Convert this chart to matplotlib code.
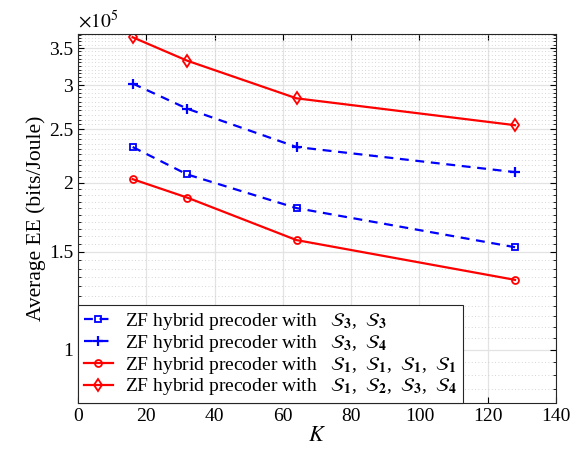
import numpy as np
import matplotlib
matplotlib.use("Agg")
import matplotlib.pyplot as plt
from matplotlib.ticker import FixedLocator, FuncFormatter, NullFormatter

plt.rcParams["font.family"] = ["Liberation Serif", "DejaVu Serif"]
plt.rcParams["mathtext.fontset"] = "stix"

# number of users K
K = [16, 32, 64, 128]

# average EE in units of 1e5 bits/Joule
ee_s3_s3 = [2.32, 2.07, 1.80, 1.53]
ee_s3_s4 = [3.02, 2.72, 2.32, 2.09]
ee_s1_s1_s1_s1 = [2.03, 1.88, 1.576, 1.336]
ee_s1_s2_s3_s4 = [3.66, 3.32, 2.84, 2.54]


def S(i):
    return r"$\boldsymbol{\mathcal{S}}_{\mathbf{%d}}$" % i


def lab(idx):
    return "ZF hybrid precoder with   " + ",  ".join(S(i) for i in idx)


labels = [lab((3, 3)), lab((3, 4)), lab((1, 1, 1, 1)), lab((1, 2, 3, 4))]

fig = plt.figure(figsize=(5.77, 4.55), dpi=100)
ax = fig.add_axes([0.1352, 0.1136, 0.8284, 0.8117])

ax.plot(K, ee_s3_s3, "--", color="#0000ff", lw=1.6, marker="s", ms=4.5, mfc="none", mew=1.3, label=labels[0], dashes=(4, 3))
ax.plot(K, ee_s3_s4, "--", color="#0000ff", lw=1.6, marker="+", ms=6.5, mew=1.6, label=labels[1], dashes=(4, 3))
ax.plot(K, ee_s1_s1_s1_s1, "-", color="#ff0000", lw=1.6, marker="o", ms=5, mfc="none", mew=1.3, label=labels[2])
ax.plot(K, ee_s1_s2_s3_s4, "-", color="#ff0000", lw=1.6, marker="d", ms=6, mfc="none", mew=1.3, label=labels[3])

ax.set_yscale("log")
ax.set_xlim(0, 140)
ax.set_ylim(0.8, 3.71)
ax.set_xticks(np.arange(0, 141, 20))
ax.yaxis.set_major_locator(FixedLocator([1, 1.5, 2, 2.5, 3, 3.5]))
ax.yaxis.set_major_formatter(FuncFormatter(lambda v, p: f"{v:g}"))
ax.yaxis.set_minor_locator(FixedLocator(np.arange(0.8, 3.72, 0.05)))
ax.yaxis.set_minor_formatter(NullFormatter())

ax.tick_params(which="both", direction="in", top=True, right=True, labelsize=14)
ax.tick_params(which="major", length=4)
ax.tick_params(which="minor", length=2.5)

ax.grid(True, which="major", color="#e3e3e3", lw=0.9)
ax.grid(True, which="minor", axis="y", color="#c8c8c8", lw=0.6, ls=(0, (1, 3)))
ax.set_axisbelow(True)
for s in ax.spines.values():
    s.set_color("#262626")
    s.set_linewidth(0.8)

ax.set_xlabel(r"$K$", fontsize=16, labelpad=1)
ax.set_ylabel("Average EE (bits/Joule)", fontsize=15.5, labelpad=2)
ax.text(0.0, 1.005, r"$\times10^5$", transform=ax.transAxes, fontsize=14, ha="left", va="bottom")

leg = ax.legend(loc="lower left", fontsize=14, borderaxespad=0, handlelength=1.5,
                labelspacing=0.05, handletextpad=0.6, borderpad=0.3, fancybox=False,
                framealpha=1, edgecolor="#262626")
leg.get_frame().set_linewidth(0.8)

fig.savefig("out.png", dpi=100)
